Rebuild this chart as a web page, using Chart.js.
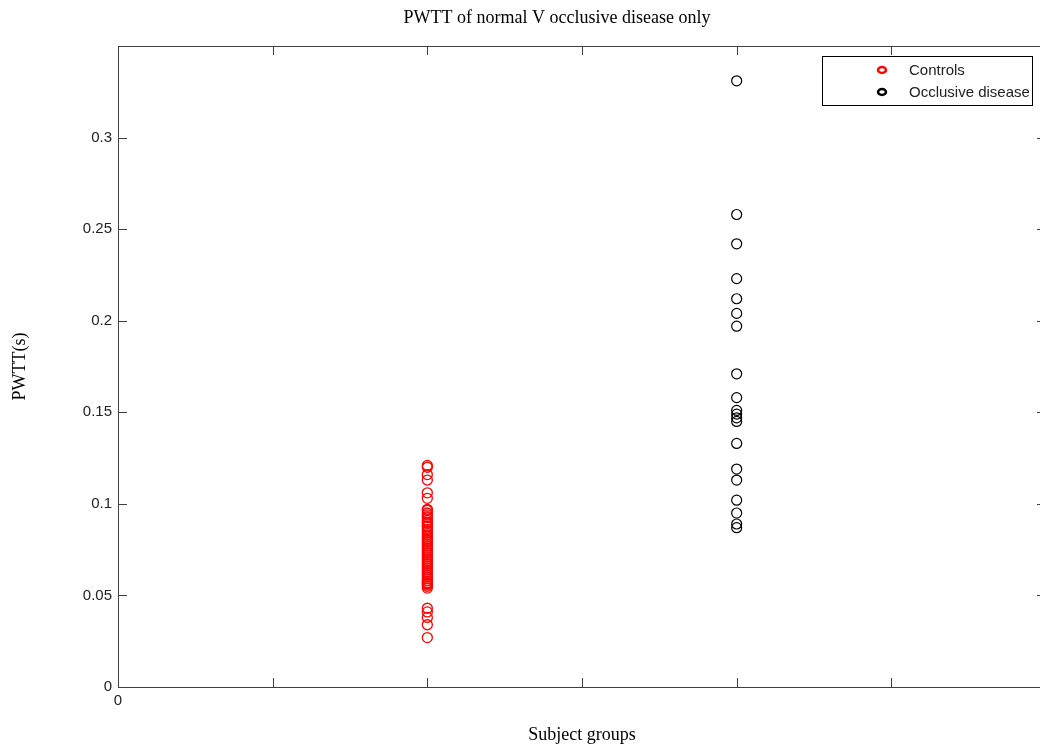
<!DOCTYPE html>
<html lang="en">
<head>
  <meta charset="UTF-8">
  <title>PWTT of normal V occlusive disease only</title>
  <script src="https://cdn.jsdelivr.net/npm/chart.js"></script>
  <style>
    body {
      margin: 0;
      background: #fff;
    }

    #chart-container {
      width: 1040px;
      height: 751px;
      overflow: hidden;
    }

    canvas {
      display: block;
    }
  </style>
</head>
<body>
  <div id="chart-container">
    <canvas id="pwttChart" width="1060" height="751"></canvas>
  </div>
  <script>
    const groupNames = ["Controls", "Occlusive disease"];
    const groupPositions = [2, 4];
    const xTicks = [0, 1, 2, 3, 4, 5, 6];
    const yTicks = [0, 0.05, 0.1, 0.15, 0.2, 0.25, 0.3];

    // PWTT (s)
    const controls = [0.121, 0.120, 0.116, 0.113, 0.106, 0.103, 0.097, 0.0965, 0.095, 0.094,
      0.093, 0.0925, 0.091, 0.090, 0.0895, 0.088, 0.0875, 0.086, 0.085, 0.084, 0.083, 0.082,
      0.081, 0.080, 0.079, 0.078, 0.077, 0.076, 0.075, 0.074, 0.073, 0.072, 0.071, 0.070,
      0.069, 0.068, 0.067, 0.066, 0.065, 0.064, 0.063, 0.062, 0.061, 0.060, 0.059, 0.058,
      0.057, 0.0565, 0.056, 0.055, 0.054, 0.043, 0.041, 0.038, 0.034, 0.027];
    const occlusive = [0.331, 0.258, 0.242, 0.223, 0.212, 0.204, 0.197, 0.171, 0.158, 0.151,
      0.149, 0.147, 0.145, 0.133, 0.119, 0.113, 0.102, 0.095, 0.089, 0.087];

    const axisColor = "#404040";
    const tickFont = { family: "Liberation Sans, Arial, sans-serif", size: 15 };

    // MATLAB-style box with inward ticks, title and legend
    const matlabAxes = {
      id: "matlabAxes",
      afterDraw(chart) {
        const { ctx, chartArea: a, scales } = chart;
        ctx.save();
        ctx.strokeStyle = axisColor;
        ctx.lineWidth = 1;
        ctx.strokeRect(a.left + 0.5, a.top + 0.5, a.right - a.left, a.bottom - a.top);

        ctx.beginPath();
        yTicks.forEach(v => {
          const py = Math.round(scales.y.getPixelForValue(v)) + 0.5;
          ctx.moveTo(a.left, py); ctx.lineTo(a.left + 9, py);
          ctx.moveTo(a.right, py); ctx.lineTo(a.right - 9, py);
        });
        xTicks.forEach(v => {
          const px = Math.round(scales.x.getPixelForValue(v)) + 0.5;
          ctx.moveTo(px, a.bottom); ctx.lineTo(px, a.bottom - 9);
          ctx.moveTo(px, a.top); ctx.lineTo(px, a.top + 9);
        });
        ctx.stroke();

        // title
        ctx.fillStyle = "#000";
        ctx.font = "18px 'Liberation Serif', 'Times New Roman', serif";
        ctx.textAlign = "center";
        ctx.textBaseline = "middle";
        ctx.fillText("PWTT of normal V occlusive disease only", 557, 18);

        // legend
        const lx = 822, ly = 56, lw = 210, lh = 49;
        ctx.fillStyle = "#fff";
        ctx.fillRect(lx, ly, lw, lh);
        ctx.strokeStyle = "#000";
        ctx.strokeRect(lx + 0.5, ly + 0.5, lw, lh);
        ctx.font = "15px 'Liberation Sans', Arial, sans-serif";
        ctx.textAlign = "left";
        chart.data.datasets.forEach((ds, i) => {
          const ry = 70 + i * 22;
          ctx.beginPath();
          ctx.strokeStyle = ds.borderColor;
          ctx.lineWidth = 2.5;
          ctx.ellipse(882, ry, 4, 3, 0, 0, Math.PI * 2);
          ctx.stroke();
          ctx.fillStyle = "#222";
          ctx.fillText(ds.label, 909, ry + 1);
        });
        ctx.restore();
      }
    };

    const ctx = document.getElementById("pwttChart").getContext("2d");

    new Chart(ctx, {
      type: "scatter",
      data: {
        datasets: [
          {
            label: groupNames[0],
            data: controls.map(v => ({ x: groupPositions[0], y: v })),
            borderColor: "#ff0000",
            backgroundColor: "rgba(0,0,0,0)",
            pointRadius: 5,
            borderWidth: 1.3,
          },
          {
            label: groupNames[1],
            data: occlusive.map(v => ({ x: groupPositions[1], y: v })),
            borderColor: "#000000",
            backgroundColor: "rgba(0,0,0,0)",
            pointRadius: 5,
            borderWidth: 1.2,
          },
        ],
      },
      options: {
        responsive: false,
        animation: false,
        events: [],
        layout: {
          padding: { top: 46, right: 14, left: 0, bottom: 0 },
        },
        plugins: {
          legend: { display: false },
          title: { display: false },
          tooltip: { enabled: false },
        },
        scales: {
          x: {
            type: "linear",
            min: 0,
            max: 6,
            afterBuildTicks: scale => {
              scale.ticks = xTicks.map(v => ({ value: v }));
            },
            afterFit: scale => { scale.height = 64; },
            grid: { display: false, drawTicks: false },
            border: { display: false },
            ticks: {
              color: "#222",
              font: tickFont,
              padding: 5,
              maxRotation: 0,
              autoSkip: false,
              callback: v => (v === 0 ? "0" : ""),
            },
            title: {
              display: true,
              text: "Subject groups",
              color: "#000",
              font: { family: "Liberation Serif, Times New Roman, serif", size: 18 },
              padding: { top: 0, bottom: 5 },
            },
          },
          y: {
            type: "linear",
            min: 0,
            max: 0.35,
            afterBuildTicks: scale => {
              scale.ticks = yTicks.map(v => ({ value: v }));
            },
            afterFit: scale => { scale.width = 118; },
            grid: { display: false, drawTicks: false },
            border: { display: false },
            ticks: {
              color: "#222",
              font: tickFont,
              padding: 6,
              autoSkip: false,
              callback: v => String(Math.round(v * 100) / 100),
            },
            title: {
              display: true,
              text: "PWTT(s)",
              color: "#000",
              font: { family: "Liberation Serif, Times New Roman, serif", size: 18 },
              padding: { top: 9, bottom: 0 },
            },
          },
        },
      },
      plugins: [matlabAxes],
    });
  </script>
</body>
</html>
